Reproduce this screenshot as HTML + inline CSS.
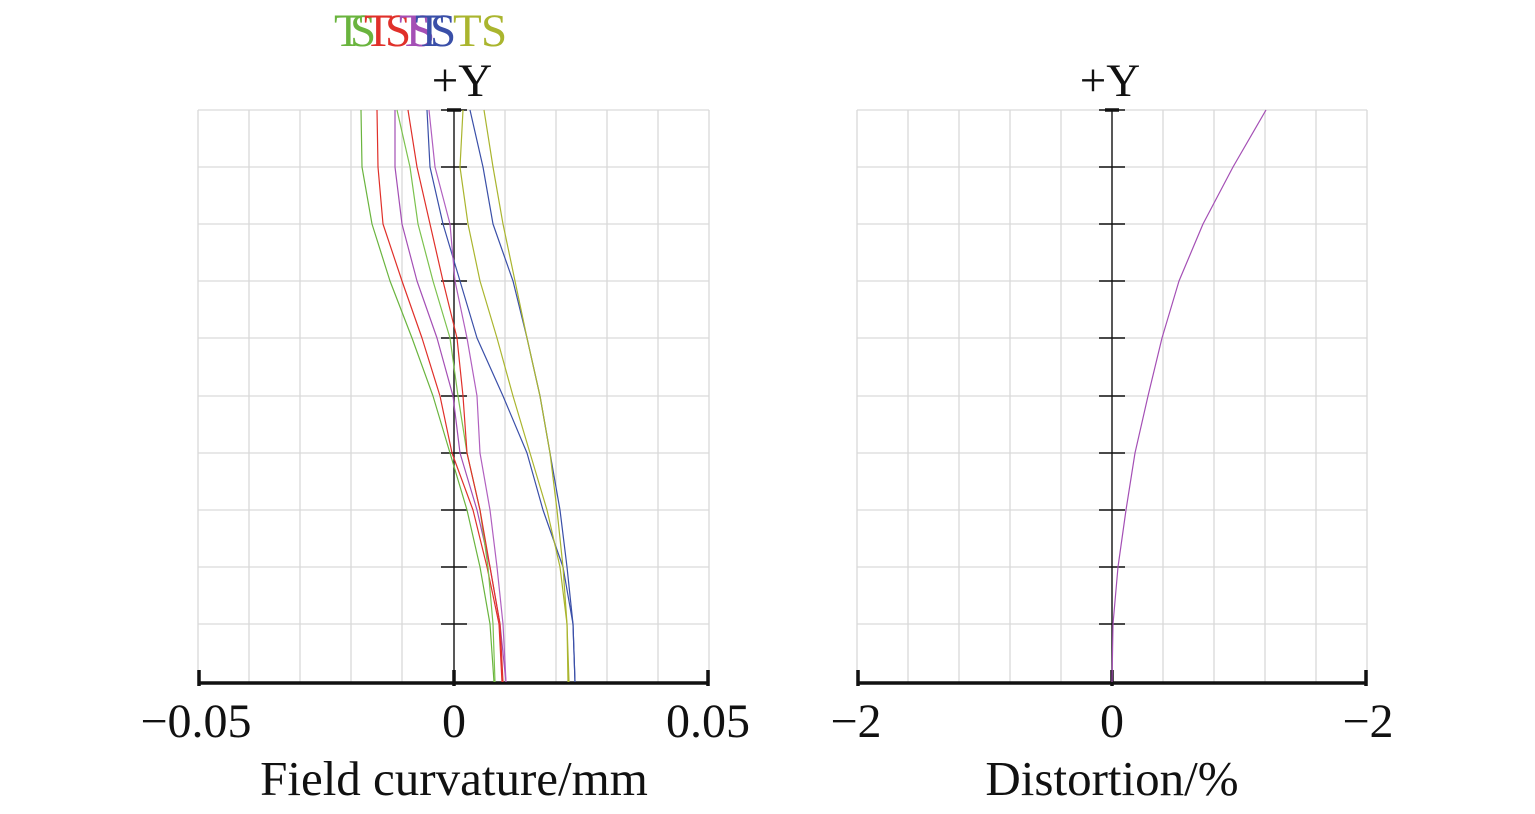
<!DOCTYPE html>
<html><head><meta charset="utf-8"><style>
html,body{margin:0;padding:0;background:#fff;}
svg{display:block;}
text{font-family:"Liberation Serif",serif;}
</style></head><body>
<svg width="1535" height="814" viewBox="0 0 1535 814" xmlns="http://www.w3.org/2000/svg">
<g stroke="#d9d9d9" stroke-width="1.3" fill="none">
<path d="M198 110V682M249 110V682M300 110V682M351 110V682M402 110V682M505 110V682M556 110V682M607 110V682M658 110V682M709 110V682"/>
<path d="M198 110H709M198 167H709M198 224H709M198 281H709M198 338H709M198 396H709M198 453H709M198 510H709M198 567H709M198 624H709"/>
<path d="M857 110V682M908 110V682M959 110V682M1010 110V682M1061 110V682M1163 110V682M1214 110V682M1265 110V682M1316 110V682M1367 110V682"/>
<path d="M857 110H1367M857 167H1367M857 224H1367M857 281H1367M857 338H1367M857 396H1367M857 453H1367M857 510H1367M857 567H1367M857 624H1367"/>
</g>
<g stroke="#111" stroke-width="1.4" fill="none">
<path d="M454 110V682M441 110H467M441 167H467M441 224H467M441 281H467M441 338H467M441 396H467M441 453H467M441 510H467M441 567H467M441 624H467"/>
<path d="M1112 110V682M1099 110H1125M1099 167H1125M1099 224H1125M1099 281H1125M1099 338H1125M1099 396H1125M1099 453H1125M1099 510H1125M1099 567H1125M1099 624H1125"/>
</g>
<g stroke="#111" stroke-width="3.5" fill="none">
<path d="M198 683H709M199 670V686M454 670V686M708 670V686"/>
<path d="M857 683H1367M858 670V686M1112 670V686M1366 670V686"/>
<path d="M447 110H461M1105 110H1119"/>
</g>
<g fill="none" stroke-width="1.2" stroke-linejoin="round">
<polyline stroke="#6ab43e" points="361,110 362,167 372,224 390,281 412,338 433,396 450,453 467,510 480,567 490,624 494,682"/>
<polyline stroke="#e0302a" points="377,110 378,167 383,224 402,281 422,338 440,396 452,453 473,510 487,567 499,624 502,682"/>
<polyline stroke="#a44fb5" points="395,110 395,167 402,224 417,281 437,338 453,396 460,453 477,510 490,567 500,624 506,682"/>
<polyline stroke="#7cc24e" points="397,110 410,167 418,224 433,281 450,338 458,396 467,453 480,510 488,567 493,624 495,682"/>
<polyline stroke="#e0302a" points="408,110 417,167 430,224 443,281 457,338 463,396 467,453 480,510 490,567 500,624 503,682"/>
<polyline stroke="#3a4fa8" points="427,110 430,167 443,224 460,281 477,338 503,396 527,453 543,510 563,567 573,624 575,682"/>
<polyline stroke="#b160c0" points="429,110 435,167 450,224 455,281 467,338 477,396 480,453 490,510 497,567 503,624 506,682"/>
<polyline stroke="#aab52e" points="463,110 460,167 468,224 480,281 497,338 513,396 530,453 547,510 560,567 567,624 569,682"/>
<polyline stroke="#3a4fa8" points="470,110 483,167 493,224 513,281 527,338 540,396 550,453 560,510 567,567 573,624 575,682"/>
<polyline stroke="#aab52e" points="484,110 493,167 503,224 515,281 527,338 540,396 550,453 557,510 563,567 567,624 568,682"/>
<polyline stroke="#a44fb5" points="1112,682 1113,624 1118,567 1126,510 1135,453 1148,396 1162,338 1179,281 1203,224 1233,167 1266,110"/>
</g>
<g font-size="47">
<text x="334" y="46" fill="#6ab43e">T</text>
<text x="350" y="46" fill="#6ab43e">S</text>
<text x="364" y="46" fill="#e0302a">T</text>
<text x="385" y="46" fill="#e0302a">S</text>
<text x="399" y="46" fill="#a44fb5">T</text>
<text x="409" y="46" fill="#a44fb5">S</text>
<text x="415" y="46" fill="#3a4fa8">T</text>
<text x="430" y="46" fill="#3a4fa8">S</text>
<text x="453" y="46" fill="#aab52e">T</text>
<text x="481" y="46" fill="#aab52e">S</text>
</g>
<g font-size="47" fill="#111" text-anchor="middle">
<text x="462" y="96">+Y</text>
<text x="1110" y="96">+Y</text>
</g>
<g font-size="48" fill="#111" text-anchor="middle">
<text x="196" y="737">−0.05</text>
<text x="454" y="737">0</text>
<text x="708" y="737">0.05</text>
<text x="856" y="737">−2</text>
<text x="1112" y="737">0</text>
<text x="1368" y="737">−2</text>
</g>
<g font-size="49" fill="#111" text-anchor="middle">
<text x="454" y="795">Field curvature/mm</text>
<text x="1112" y="795">Distortion/%</text>
</g>
</svg>
</body></html>
